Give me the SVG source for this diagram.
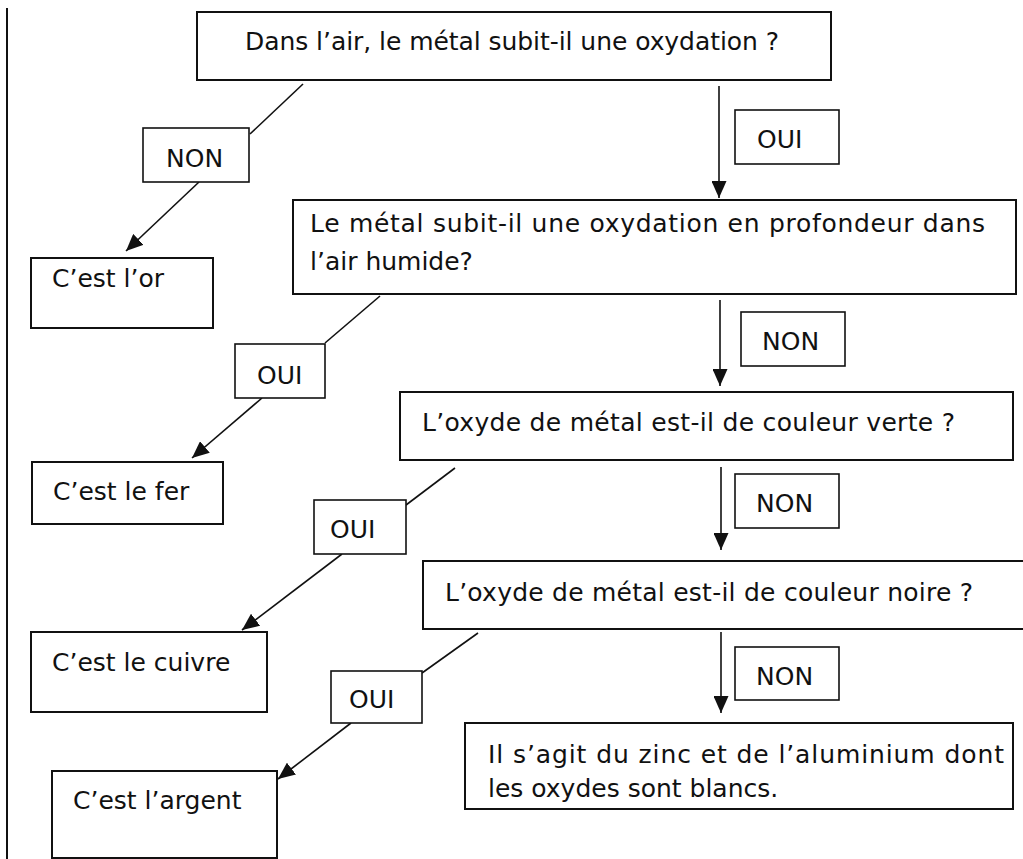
<svg xmlns="http://www.w3.org/2000/svg" width="1023" height="859" viewBox="0 0 1023 859">
<style>
.box{fill:#fff;stroke:#111;stroke-width:2}
.lbl{fill:#fff;stroke:#111;stroke-width:1.6}
text{font-family:"DejaVu Sans","Liberation Sans",sans-serif;font-size:25px;fill:#111}
.c{stroke:#111;stroke-width:1.6;fill:none}
.a{marker-end:url(#ah)}
</style>
<defs>
<marker id="ah" markerUnits="userSpaceOnUse" markerWidth="18" markerHeight="15" refX="17" refY="7.5" orient="auto">
<path d="M0,0 L17,7.5 L0,15 z" fill="#111"/>
</marker>
</defs>
<line x1="7" y1="8" x2="7" y2="859" stroke="#111" stroke-width="2"/>
<g id="connectors">
<line class="c" x1="303" y1="84" x2="250" y2="134"/>
<line class="c a" x1="199" y1="182" x2="126" y2="251"/>
<line class="c a" x1="719" y1="86" x2="719" y2="198"/>
<line class="c" x1="380" y1="296" x2="325" y2="343"/>
<line class="c a" x1="262" y1="398" x2="192" y2="458"/>
<line class="c a" x1="720" y1="300" x2="720" y2="386"/>
<line class="c" x1="455" y1="468" x2="406" y2="505"/>
<line class="c a" x1="342" y1="554" x2="242" y2="630"/>
<line class="c a" x1="721" y1="467" x2="721" y2="550"/>
<line class="c" x1="478" y1="633" x2="422" y2="673"/>
<line class="c a" x1="351" y1="723" x2="278" y2="779"/>
<line class="c a" x1="721" y1="632" x2="721" y2="713"/>
</g>
<g id="q1">
<rect class="box" x="197" y="12" width="634" height="68"/>
<text x="245" y="50" textLength="534">Dans l’air, le métal subit-il une oxydation ?</text>
</g>
<g id="lbl-non1">
<rect class="lbl" x="143" y="128" width="106" height="54"/>
<text x="166" y="167">NON</text>
</g>
<g id="lbl-oui1">
<rect class="lbl" x="735" y="110" width="104" height="54"/>
<text x="757" y="148">OUI</text>
</g>
<g id="r-or">
<rect class="box" x="31" y="258" width="182" height="70"/>
<text x="52" y="287">C’est l’or</text>
</g>
<g id="q2">
<rect class="box" x="293" y="200" width="723" height="94"/>
<text x="310" y="232" textLength="675">Le métal subit-il une oxydation en profondeur dans</text>
<text x="310" y="270">l’air humide?</text>
</g>
<g id="lbl-oui2">
<rect class="lbl" x="235" y="344" width="90" height="54"/>
<text x="257" y="384">OUI</text>
</g>
<g id="lbl-non2">
<rect class="lbl" x="741" y="312" width="104" height="54"/>
<text x="762" y="350">NON</text>
</g>
<g id="r-fer">
<rect class="box" x="32" y="462" width="191" height="62"/>
<text x="53" y="500">C’est le fer</text>
</g>
<g id="q3">
<rect class="box" x="400" y="392" width="613" height="68"/>
<text x="422" y="431" textLength="533">L’oxyde de métal est-il de couleur verte ?</text>
</g>
<g id="lbl-oui3">
<rect class="lbl" x="314" y="500" width="92" height="54"/>
<text x="330" y="538">OUI</text>
</g>
<g id="lbl-non3">
<rect class="lbl" x="735" y="474" width="104" height="54"/>
<text x="756" y="512">NON</text>
</g>
<g id="r-cuivre">
<rect class="box" x="31" y="632" width="236" height="80"/>
<text x="52" y="671">C’est le cuivre</text>
</g>
<g id="q4">
<rect class="box" x="423" y="561" width="602" height="68"/>
<text x="445" y="601" textLength="528">L’oxyde de métal est-il de couleur noire ?</text>
</g>
<g id="lbl-oui4">
<rect class="lbl" x="331" y="671" width="91" height="52"/>
<text x="349" y="708">OUI</text>
</g>
<g id="lbl-non4">
<rect class="lbl" x="735" y="647" width="104" height="53"/>
<text x="756" y="685">NON</text>
</g>
<g id="r-argent">
<rect class="box" x="52" y="771" width="225" height="87"/>
<text x="73" y="809">C’est l’argent</text>
</g>
<g id="r-zinc">
<rect class="box" x="465" y="723" width="548" height="86"/>
<text x="488" y="763" textLength="516">Il s’agit du zinc et de l’aluminium dont</text>
<text x="488" y="797">les oxydes sont blancs.</text>
</g>
</svg>
